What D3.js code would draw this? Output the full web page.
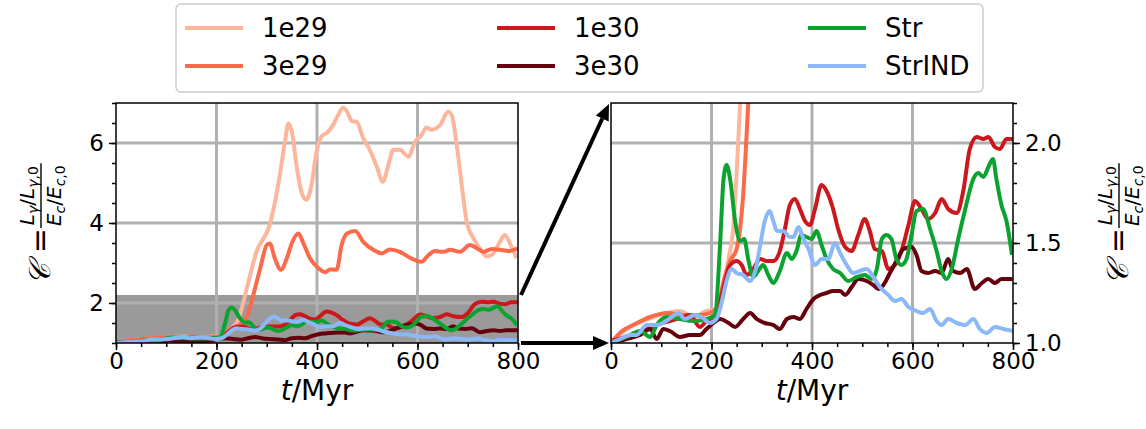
<!DOCTYPE html>
<html>
<head>
<meta charset="utf-8">
<script src="https://cdn.jsdelivr.net/npm/d3@7"></script>
<style>
  body { margin: 0; background: #fff; }
  svg { display: block; font-family: "DejaVu Sans", sans-serif; }
</style>
</head>
<body>
<svg id="chart" width="1146" height="429"></svg>
<script>
// ---- data: compactness C(t) for each run ----
const seriesNames  = ["1e29", "3e29", "1e30", "3e30", "Str", "StrIND"];
const seriesColors = ["#fcb69c", "#fb6a4a", "#cb181d", "#67000d", "#0aa32f", "#8ab8f9"];

const t1e29 = [0,31,64,97,137,164,190,207,220,233,243,250,257,267,280,293,303,316,326,337,343,350,360,369,379,389,399,409,422,432,442,452,460,469,479,492,505,519,531,542,552,565,582,595,608,618,628,645,661,668,678,688,698,711,724,738,751,764,774,784,797];
const c1e29 = [1.0,1.07,1.11,1.14,1.16,1.13,1.16,1.17,1.24,1.41,1.57,1.85,2.2,2.7,3.3,3.6,3.85,4.5,5.2,6.1,6.49,6.28,5.37,4.78,4.58,4.95,5.78,6.16,6.28,6.45,6.7,6.88,6.78,6.55,6.53,6.12,5.83,5.41,5.03,5.45,5.83,5.83,5.66,6.03,6.2,6.39,6.33,6.45,6.78,6.7,5.95,4.95,4.03,3.62,3.37,3.16,3.24,3.53,3.7,3.49,3.12];

const t3e29 = [0,22,44,78,111,144,177,204,215,224,237,250,263,273,287,300,306,316,328,340,351,363,373,386,403,416,426,439,449,460,476,492,512,529,545,565,585,608,622,635,651,665,685,704,718,731,748,764,781,799];
const c3e29 = [1.0,1.06,1.09,1.13,1.15,1.14,1.14,1.16,1.2,1.31,1.41,1.47,1.74,2.19,2.87,3.45,3.49,3.12,2.83,3.12,3.53,3.74,3.49,3.12,2.87,2.77,2.84,2.83,3.45,3.74,3.8,3.53,3.33,3.24,3.34,3.28,3.13,3.03,3.2,3.3,3.28,3.33,3.28,3.45,3.37,3.28,3.35,3.33,3.3,3.37];

const t1e30 = [0,31,64,91,117,144,157,177,190,207,217,227,237,250,260,270,283,297,310,323,336,346,356,366,376,386,396,406,419,429,442,452,466,479,492,505,515,525,539,552,565,578,592,605,618,631,645,658,671,688,701,714,728,741,751,764,774,787,800];
const c1e30 = [1.01,1.03,1.06,1.09,1.11,1.13,1.14,1.08,1.11,1.14,1.21,1.31,1.39,1.41,1.39,1.34,1.37,1.42,1.41,1.41,1.46,1.57,1.69,1.72,1.67,1.61,1.59,1.67,1.79,1.76,1.67,1.57,1.48,1.46,1.54,1.62,1.56,1.47,1.46,1.37,1.39,1.46,1.59,1.71,1.67,1.62,1.65,1.72,1.67,1.65,1.76,1.97,2.03,2.02,2.03,1.98,1.97,2.02,2.02];

const t3e30 = [0,31,58,78,91,104,117,137,157,177,190,204,217,234,247,263,277,290,306,323,336,350,363,376,389,403,416,429,442,456,466,479,492,509,522,532,542,555,568,582,598,608,618,631,645,658,671,681,695,708,724,738,751,764,777,799];
const c3e30 = [1.0,1.02,1.04,1.07,1.02,1.07,1.06,1.03,1.04,1.04,1.07,1.1,1.12,1.1,1.08,1.12,1.15,1.12,1.1,1.09,1.07,1.12,1.13,1.12,1.17,1.22,1.24,1.25,1.26,1.26,1.24,1.28,1.32,1.31,1.29,1.27,1.29,1.35,1.41,1.47,1.48,1.44,1.36,1.35,1.36,1.35,1.42,1.36,1.35,1.37,1.27,1.3,1.32,1.3,1.32,1.32];

const tStr = [0,31,58,78,91,111,137,164,190,207,217,224,230,237,247,257,265,273,283,293,303,313,323,336,350,360,369,379,389,399,409,419,429,442,456,472,489,505,519,529,539,548,558,568,578,588,598,608,621,635,648,658,668,678,691,705,721,731,741,751,760,767,777,787,798];
const cStr = [1.0,1.03,1.06,1.03,1.09,1.13,1.12,1.11,1.12,1.14,1.49,1.82,1.89,1.82,1.61,1.51,1.52,1.42,1.33,1.36,1.39,1.34,1.3,1.36,1.45,1.42,1.46,1.54,1.53,1.52,1.56,1.49,1.42,1.37,1.35,1.31,1.33,1.34,1.32,1.37,1.52,1.54,1.52,1.42,1.39,1.42,1.54,1.66,1.67,1.57,1.46,1.36,1.32,1.37,1.52,1.67,1.82,1.85,1.83,1.88,1.92,1.82,1.69,1.61,1.44];

const tStrIND = [0,18,38,51,71,91,104,121,134,147,167,180,197,210,220,230,240,250,263,277,287,297,306,316,323,330,343,356,363,373,383,393,406,419,432,446,456,469,482,495,509,522,535,552,565,578,592,608,621,635,648,658,671,688,705,721,734,748,764,781,799];
const cStrIND = [1.0,1.02,1.04,1.04,1.09,1.09,1.1,1.13,1.15,1.12,1.14,1.13,1.1,1.12,1.2,1.31,1.37,1.35,1.34,1.31,1.36,1.49,1.61,1.66,1.61,1.56,1.56,1.53,1.53,1.58,1.52,1.47,1.39,1.42,1.42,1.5,1.45,1.39,1.35,1.36,1.37,1.33,1.28,1.24,1.21,1.22,1.18,1.16,1.15,1.17,1.11,1.09,1.12,1.1,1.09,1.12,1.07,1.05,1.08,1.07,1.06];

const seriesT = [t1e29, t3e29, t1e30, t3e30, tStr, tStrIND];
const seriesC = [c1e29, c3e29, c1e30, c3e30, cStr, cStrIND];

// ---- axis settings ----
const timeDomain = [0, 800];
const timeTicks = [0, 200, 400, 600, 800];
const timeMinorStep = 50;
const fullDomain = [1, 7];
const fullTicks = [2, 4, 6];
const fullMinorStep = 0.5;
const zoomDomain = [1.0, 2.2];
const zoomTicks = [1.0, 1.5, 2.0];
const zoomMinorStep = 0.1;

const series = seriesNames.map((name, i) => ({
  name, color: seriesColors[i],
  pts: seriesT[i].map((t, j) => [t, seriesC[i][j]])
}));

const svg = d3.select("#chart");
const FONT = "DejaVu Sans";
const TICK_FS = 23;

// panel boxes
const P1 = { left: 116, right: 518, top: 103, bottom: 343 };
const P2 = { left: 611, right: 1013, top: 103, bottom: 343 };

const xL = d3.scaleLinear().domain(timeDomain).range([P1.left, P1.right]);
const yL = d3.scaleLinear().domain(fullDomain).range([P1.bottom, P1.top]);
const xR = d3.scaleLinear().domain(timeDomain).range([P2.left, P2.right]);
const yR = d3.scaleLinear().domain(zoomDomain).range([P2.bottom, P2.top]);

function range(a, b, step) {
  const out = [];
  for (let v = a; v <= b + 1e-9; v += step) out.push(+v.toFixed(4));
  return out;
}

function styleAxis(g) {
  g.select(".domain").remove();
  g.selectAll("line").attr("stroke", "#000").attr("stroke-width", 1.5);
  g.selectAll("text").attr("font-family", FONT).attr("font-size", TICK_FS).attr("fill", "#000");
}

function drawPanel(P, x, y, yTicks, yMinorStep, yOnRight, id, withBand) {
  const g = svg.append("g");
  const w = P.right - P.left, h = P.bottom - P.top;

  // zoom window band (left panel only)
  if (withBand) {
    g.append("rect")
      .attr("x", x(timeDomain[0])).attr("width", x(timeDomain[1]) - x(timeDomain[0]))
      .attr("y", y(zoomDomain[1])).attr("height", y(zoomDomain[0]) - y(zoomDomain[1]))
      .attr("fill", "#9a9a9a");
  }

  // grid
  const grid = g.append("g").attr("stroke", "#b0b0b0").attr("stroke-width", 3);
  timeTicks.slice(1, -1).forEach(t => grid.append("line")
    .attr("x1", x(t)).attr("x2", x(t)).attr("y1", P.top).attr("y2", P.bottom));
  yTicks.filter(v => v > y.domain()[0] && v < y.domain()[1]).forEach(v => grid.append("line")
    .attr("y1", y(v)).attr("y2", y(v)).attr("x1", P.left).attr("x2", P.right));

  // lines
  const clipId = "clip-" + id;
  svg.append("clipPath").attr("id", clipId).append("rect")
    .attr("x", P.left).attr("y", P.top).attr("width", w).attr("height", h);
  const line = d3.line().x(d => x(d[0])).y(d => y(d[1])).curve(d3.curveMonotoneX);
  g.append("g").attr("clip-path", `url(#${clipId})`)
    .selectAll("path").data(series).join("path")
    .attr("d", d => line(d.pts))
    .attr("fill", "none").attr("stroke", d => d.color)
    .attr("stroke-width", 4).attr("stroke-linejoin", "round");

  // x axis
  g.append("g").attr("transform", `translate(0,${P.bottom})`)
    .call(d3.axisBottom(x).tickValues(range(timeDomain[0], timeDomain[1], timeMinorStep))
      .tickSize(4).tickSizeOuter(0).tickFormat(""))
    .call(styleAxis);
  g.append("g").attr("transform", `translate(0,${P.bottom})`)
    .call(d3.axisBottom(x).tickValues(timeTicks).tickSize(7).tickSizeOuter(0).tickPadding(3)
      .tickFormat(d3.format("d")))
    .call(styleAxis);

  // y axis
  const yPos = yOnRight ? P.right : P.left;
  const mk = yOnRight ? d3.axisRight : d3.axisLeft;
  const minorVals = range(y.domain()[0], y.domain()[1], yMinorStep);
  g.append("g").attr("transform", `translate(${yPos},0)`)
    .call(mk(y).tickValues(minorVals).tickSize(4).tickSizeOuter(0).tickFormat(""))
    .call(styleAxis);
  g.append("g").attr("transform", `translate(${yPos},0)`)
    .call(mk(y).tickValues(yTicks).tickSize(7).tickSizeOuter(0).tickPadding(5)
      .tickFormat(yOnRight ? d3.format(".1f") : d3.format("d")))
    .call(styleAxis);

  // frame
  g.append("rect").attr("x", P.left).attr("y", P.top).attr("width", w).attr("height", h)
    .attr("fill", "none").attr("stroke", "#000").attr("stroke-width", 1.5);

  // x label
  const xl = g.append("text").attr("x", (P.left + P.right) / 2).attr("y", 400)
    .attr("text-anchor", "middle").attr("font-family", FONT).attr("font-size", 28);
  xl.append("tspan").attr("font-style", "italic").text("t");
  xl.append("tspan").text("/Myr");
}

drawPanel(P1, xL, yL, fullTicks, fullMinorStep, false, "full", true);
drawPanel(P2, xR, yR, zoomTicks, zoomMinorStep, true, "zoom", false);

// ---- arrows linking the zoom window to the right panel ----
function arrow(x1, y1, x2, y2) {
  const ang = Math.atan2(y2 - y1, x2 - x1);
  const hl = 16, hw = 7;
  const bx = x2 - hl * Math.cos(ang), by = y2 - hl * Math.sin(ang);
  svg.append("line").attr("x1", x1).attr("y1", y1).attr("x2", bx).attr("y2", by)
    .attr("stroke", "#000").attr("stroke-width", 4);
  const px = -Math.sin(ang) * hw, py = Math.cos(ang) * hw;
  svg.append("path")
    .attr("d", `M${x2},${y2}L${bx + px},${by + py}L${bx - px},${by - py}Z`)
    .attr("fill", "#000");
}
arrow(xL(800) + 3, yL(zoomDomain[1]), xR(0) - 2, yR(zoomDomain[1]) + 1);
arrow(xL(800) + 3, yL(zoomDomain[0]), xR(0) - 2, yR(zoomDomain[0]));

// ---- y labels: C = (L_γ/L_γ,0)/(E_c/E_c,0) ----
function yLabel(cx, cy) {
  const g = svg.append("g").attr("transform", `translate(${cx},${cy}) rotate(-90)`)
    .attr("font-family", FONT);
  const lhs = g.append("text").attr("font-size", 30).attr("y", 9);
  lhs.append("tspan").attr("font-style", "italic").text("𝒞");
  lhs.append("tspan").text(" = ");
  const num = g.append("text").attr("font-size", 20).attr("y", -7).attr("text-anchor", "middle");
  num.append("tspan").attr("font-style", "italic").text("L");
  num.append("tspan").attr("font-style", "italic").attr("font-size", 14).attr("dy", 4).text("γ");
  num.append("tspan").attr("dy", -4).text("/");
  num.append("tspan").attr("font-style", "italic").text("L");
  num.append("tspan").attr("font-style", "italic").attr("font-size", 14).attr("dy", 4).text("γ");
  num.append("tspan").attr("font-size", 14).text(",0");
  const den = g.append("text").attr("font-size", 20).attr("y", 20).attr("text-anchor", "middle");
  den.append("tspan").attr("font-style", "italic").text("E");
  den.append("tspan").attr("font-style", "italic").attr("font-size", 14).attr("dy", 4).text("c");
  den.append("tspan").attr("dy", -4).text("/");
  den.append("tspan").attr("font-style", "italic").text("E");
  den.append("tspan").attr("font-style", "italic").attr("font-size", 14).attr("dy", 4).text("c");
  den.append("tspan").attr("font-size", 14).text(",0");

  const lw = lhs.node().getComputedTextLength();
  const fw = Math.max(num.node().getComputedTextLength(), den.node().getComputedTextLength()) + 4;
  const start = -(lw + fw) / 2;
  lhs.attr("x", start);
  const fc = start + lw + fw / 2;
  num.attr("x", fc); den.attr("x", fc);
  g.append("line").attr("x1", fc - fw / 2).attr("x2", fc + fw / 2).attr("y1", 0).attr("y2", 0)
    .attr("stroke", "#000").attr("stroke-width", 1.4);
}
yLabel(41, 224);
yLabel(1119, 224);

// ---- legend ----
const lg = svg.append("g");
lg.append("rect").attr("x", 176).attr("y", 4).attr("width", 807).attr("height", 88)
  .attr("rx", 5).attr("fill", "#fff").attr("fill-opacity", 0.8)
  .attr("stroke", "#cccccc").attr("stroke-width", 1.5);
const colX = [185, 497, 808];
const rowY = [28, 66];
series.forEach((s, i) => {
  const cx = colX[Math.floor(i / 2)], cy = rowY[i % 2];
  lg.append("line").attr("x1", cx).attr("x2", cx + 58).attr("y1", cy).attr("y2", cy)
    .attr("stroke", s.color).attr("stroke-width", 4);
  lg.append("text").attr("x", cx + 77).attr("y", cy + 9)
    .attr("font-family", FONT).attr("font-size", 26).text(s.name);
});
</script>
</body>
</html>
